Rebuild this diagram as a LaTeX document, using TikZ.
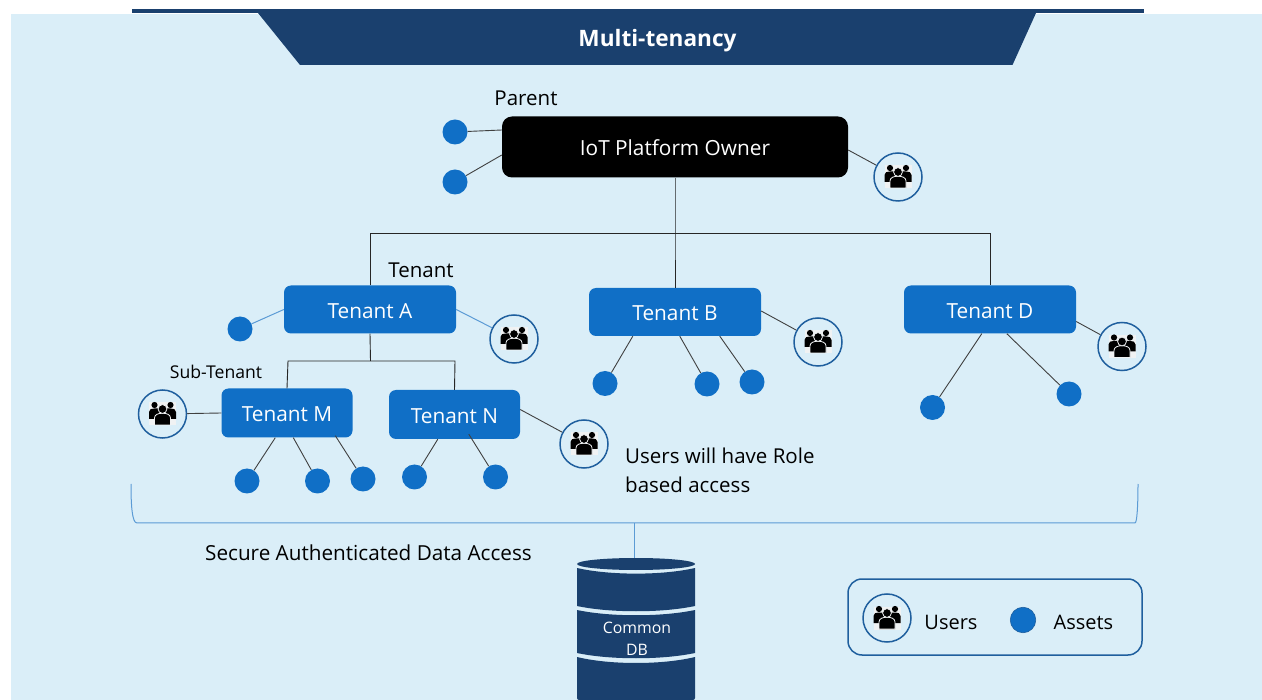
\documentclass[tikz,border=0pt]{standalone}
\usepackage{fontspec}
\setmainfont{Open Sans}
\definecolor{panel}{HTML}{DAEEF8}
\definecolor{navy}{HTML}{1A406E}
\definecolor{midblue}{HTML}{106FC6}
\definecolor{ringblue}{HTML}{1F5F9E}
\definecolor{thinblue}{HTML}{5B9BD5}
\definecolor{iconbg}{HTML}{F0F2F3}
\definecolor{connc}{HTML}{404040}
\tikzset{
  x=1pt,y=-1pt,
  assetnode/.style={circle,fill=midblue,minimum size=25,inner sep=0},
  usersring/.style={circle,draw=ringblue,line width=1.5,fill=panel,minimum size=48,inner sep=0},
  tenantbox/.style={rectangle,rounded corners=7,fill=midblue,text=white,inner sep=0,text height=17.5,text depth=0,font=\fontsize{20.8}{24}\selectfont},
  labeltext/.style={text=black,inner sep=0,font=\fontsize{20.5}{24}\selectfont},
  conn/.style={draw=connc,line width=0.9},
  connb/.style={draw=thinblue,line width=1},
  trunk/.style={draw=black!85,line width=0.9},
  usersicon/.pic={
    \fill[iconbg] (-13.5,-11.5) rectangle (13.5,11.5);
    \fill[black] (-8,-9) circle (3.1) (8,-9) circle (3.1);
    \fill[black] (-13.5,5) -- (-13.5,-2) .. controls (-13.5,-5) and (-11,-5.5) .. (-8,-5.5) -- (-3,-5.5) -- (-3,5) -- cycle;
    \fill[black] (13.5,5) -- (13.5,-2) .. controls (13.5,-5) and (11,-5.5) .. (8,-5.5) -- (3,-5.5) -- (3,5) -- cycle;
    \filldraw[fill=black,draw=iconbg,line width=0.8] (-8,11) -- (-8,4) .. controls (-8,0.5) and (-4,-0.8) .. (0,-0.8) .. controls (4,-0.8) and (8,0.5) .. (8,4) -- (8,11) -- cycle;
    \filldraw[fill=black,draw=iconbg,line width=0.8] (0,-5) circle (4.4);
  }
}
\newcommand{\usersat}[3]{\node[usersring] (#1) at (#2,#3) {}; \pic at (#2,#3) {usersicon};}
\begin{document}
\begin{tikzpicture}
\useasboundingbox (0,0) rectangle (1262,700);
% background and title
\fill[panel] (11,14.5) rectangle (1262,700);
\fill[navy] (132,9) rectangle (1144,13.5);
\fill[navy] (258,13) -- (300,65) -- (1012.5,65) -- (1036,13) -- cycle;
\node[text=white,inner sep=0,font=\fontsize{22.6}{28}\selectfont\bfseries] (title) at (657.5,40.5) {Multi-tenancy};

% boxes
\node[tenantbox,fill=black,rounded corners=10,minimum width=346,minimum height=61] (owner) at (675,147) {IoT Platform Owner};
\node[tenantbox,minimum width=172,minimum height=48] (ta) at (370,309.5) {Tenant A};
\node[tenantbox,minimum width=172,minimum height=48] (tb) at (675,312) {Tenant B};
\node[tenantbox,minimum width=172,minimum height=48] (td) at (990,309.5) {Tenant D};
\node[tenantbox,minimum width=131,minimum height=49] (tm) at (287,413) {Tenant M};
\node[tenantbox,minimum width=131,minimum height=49] (tn) at (454.5,414.5) {Tenant N};

% assets
\node[assetnode] (o1) at (455,132) {};
\node[assetnode] (o2) at (455,182) {};
\node[assetnode] (a1) at (240,329) {};
\node[assetnode] (b1) at (605,383.5) {};
\node[assetnode] (b2) at (707,384) {};
\node[assetnode] (b3) at (752,382) {};
\node[assetnode] (d1) at (932.5,407.5) {};
\node[assetnode] (d2) at (1069,394) {};
\node[assetnode] (m1) at (247,481) {};
\node[assetnode] (m2) at (317.5,481) {};
\node[assetnode] (m3) at (363,479) {};
\node[assetnode] (n1) at (414.5,477) {};
\node[assetnode] (n2) at (495.5,477) {};

% users
\usersat{uo}{898}{177}
\usersat{ua}{514}{339}
\usersat{ub}{818}{342}
\usersat{ud}{1122}{346.5}
\usersat{um}{162.5}{414}
\usersat{un}{584}{444}

% tree connectors
\coordinate (hub) at (675,233);
\coordinate (hubA) at (370,233);
\coordinate (hubD) at (990,233);
\draw[trunk] (owner.south) -- (hub) -- (tb.north);
\draw[trunk] (ta.north) -- (hubA) -- (hubD) -- (td.north);
\coordinate (subhub) at (370.5,361);
\coordinate (subM) at (288,361);
\coordinate (subN) at (455,361);
\draw[trunk] (ta.south) -- (subhub);
\draw[trunk] (tm.north) -- (subM) -- (subN) -- (tn.north);

% leaf connectors
\draw[conn] ([yshift=17]owner.west) -- (o1);
\draw[conn] ([yshift=-8]owner.west) -- (o2);
\draw[conn] ([yshift=-3]owner.east) -- (uo);
\draw[connb] (ta.west) -- (a1);
\draw[connb] (ta.east) -- (ua);
\draw[conn] ([yshift=1]tb.east) -- (ub);
\draw[conn] ([xshift=44]tb.south west) -- (b1);
\draw[conn] ([xshift=91]tb.south west) -- (b2);
\draw[conn] ([xshift=131]tb.south west) -- (b3);
\draw[conn] ([yshift=-12]td.east) -- (ud);
\draw[conn] ([xshift=78]td.south west) -- (d1);
\draw[conn] ([xshift=103]td.south west) -- (d2);
\draw[conn] (tm.west) -- (um);
\draw[conn] ([xshift=54]tm.south west) -- (m1);
\draw[conn] ([xshift=72]tm.south west) -- (m2);
\draw[conn] ([xshift=114,yshift=2]tm.south west) -- (m3);
\draw[conn] ([xshift=49]tn.south west) -- (n1);
\draw[conn] ([xshift=80,yshift=5]tn.south west) -- (n2);
\draw[conn] ([yshift=5]tn.east) -- (un);

% labels
\node[labeltext,anchor=center] (lparent) at (526,98) {Parent};
\node[labeltext,anchor=center] (ltenant) at (421,270) {Tenant};
\node[labeltext,anchor=center,font=\fontsize{17.6}{20}\selectfont] (lsub) at (216,372) {Sub-Tenant};
\node[labeltext,anchor=west,align=left,font=\fontsize{20.5}{28.5}\selectfont] (lrole) at (625,470.5) {Users will have Role\\based access};
\node[labeltext,anchor=west,font=\fontsize{20.7}{24}\selectfont] (lsecure) at (205,553) {Secure Authenticated Data Access};

% bracket
\coordinate (brL) at (131,484);
\coordinate (brLb) at (137,523);
\coordinate (brRb) at (1135,523);
\coordinate (brR) at (1138,484);
\coordinate (brM) at (634,523);
\coordinate (dbtop) at (634,558);
\draw[connb] (brL) .. controls (131,505) and (132,523) .. (brLb) -- (brRb) .. controls (1137,523) and (1138,505) .. (brR);
\draw[connb] (brM) -- (dbtop);

% database
\fill[navy] (636,564) ellipse [x radius=59,y radius=6];
\fill[navy] (577,568) .. controls (610,575.5) and (662,575.5) .. (695,568) -- (695,606) .. controls (662,613) and (610,613) .. (577,606) -- cycle;
\fill[navy] (577,610) .. controls (610,617) and (662,617) .. (695,610) -- (695,653) .. controls (662,660) and (610,660) .. (577,653) -- cycle;
\fill[navy] (577,657) .. controls (610,665) and (662,665) .. (695,657) -- (695,698) arc[start angle=0,end angle=90,radius=2] -- (579,700) arc[start angle=90,end angle=180,radius=2] -- cycle;
\node[text=white,inner sep=0,align=center,font=\fontsize{15.8}{22}\selectfont] (dbtext) at (637,638.5) {Common\\DB};

% legend
\node[rectangle,draw=ringblue,line width=1.5,rounded corners=14,minimum width=294,minimum height=76,inner sep=0] (legend) at (995,617) {};
\usersat{lu}{887}{618}
\node[labeltext,anchor=center,font=\fontsize{20}{24}\selectfont] (lusers) at (951,622.5) {Users};
\node[assetnode,draw=ringblue,line width=0.6,minimum size=25.5] (la) at (1023,620) {};
\node[labeltext,anchor=center,font=\fontsize{20}{24}\selectfont] (lassets) at (1083.5,622.5) {Assets};
\end{tikzpicture}
\end{document}
